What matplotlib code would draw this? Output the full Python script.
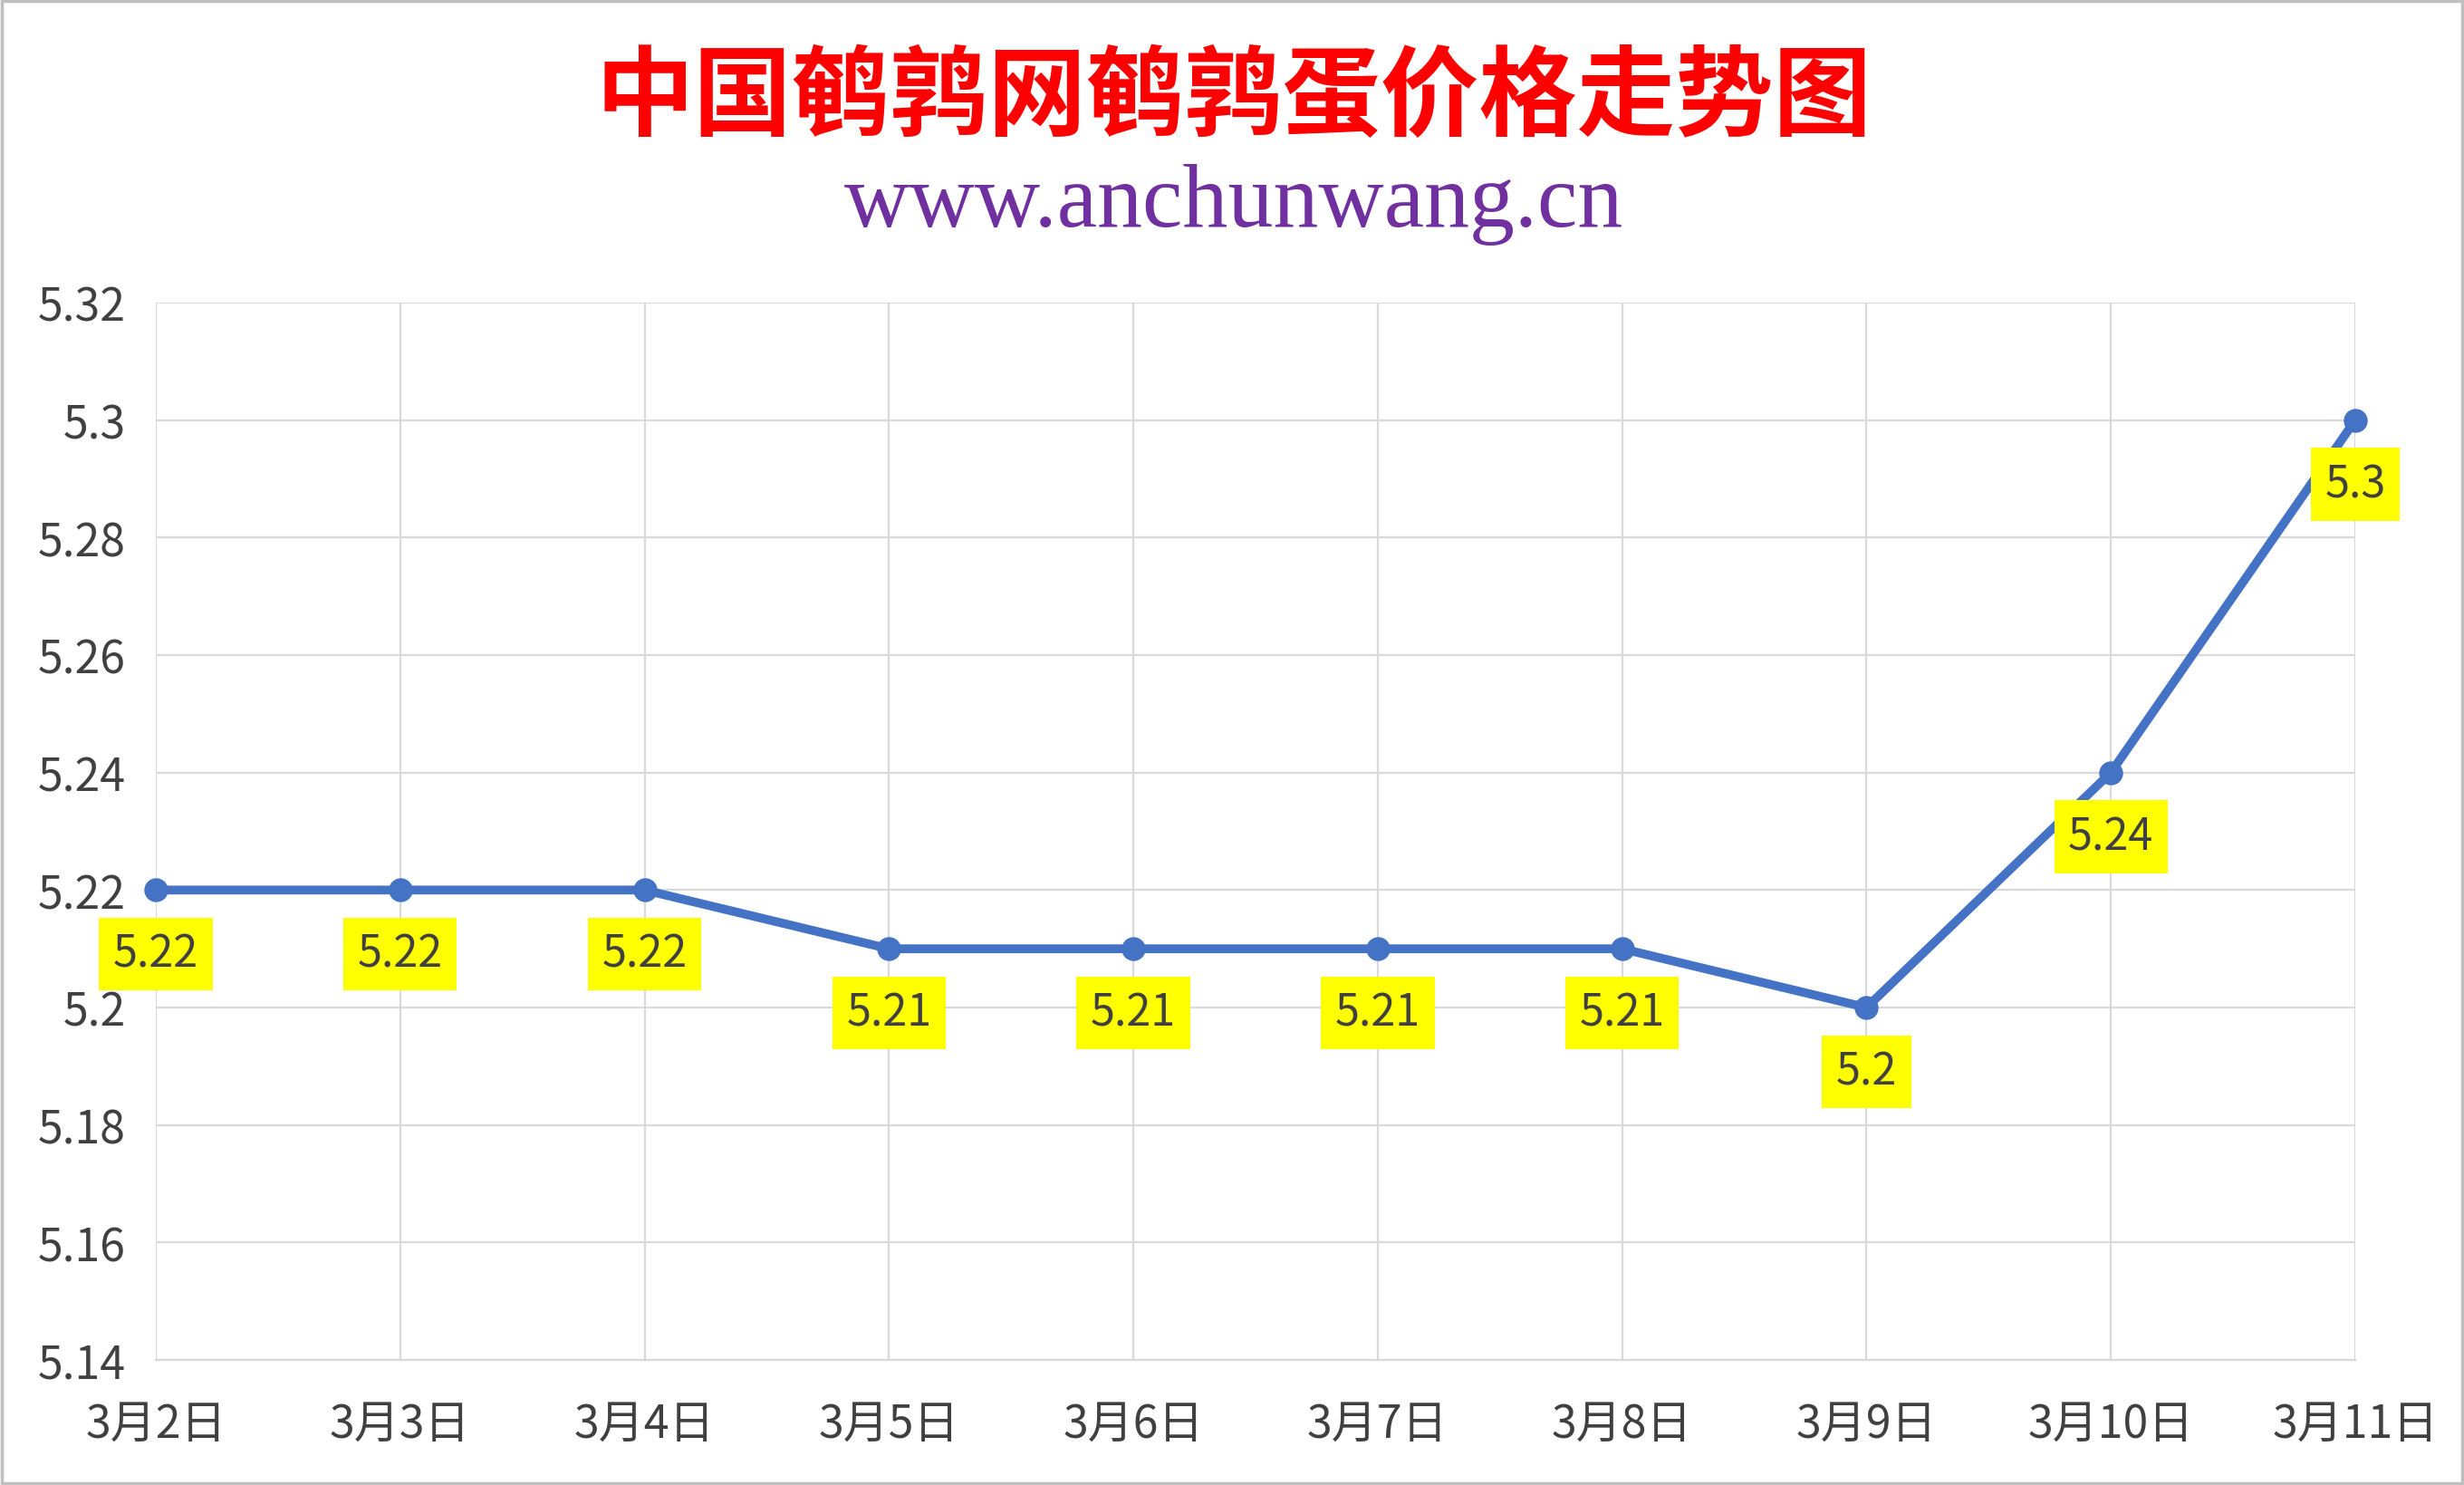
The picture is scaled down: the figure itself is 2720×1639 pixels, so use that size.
import matplotlib
matplotlib.use("Agg")
import matplotlib.pyplot as plt
from matplotlib.patches import Rectangle

plt.rcParams['font.family'] = ['Noto Sans CJK SC', 'DejaVu Sans']

dates = ["3月2日", "3月3日", "3月4日", "3月5日", "3月6日", "3月7日", "3月8日", "3月9日", "3月10日", "3月11日"]
prices = [5.22, 5.22, 5.22, 5.21, 5.21, 5.21, 5.21, 5.20, 5.24, 5.30]
label_texts = ["5.22", "5.22", "5.22", "5.21", "5.21", "5.21", "5.21", "5.2", "5.24", "5.3"]
y_ticks = [5.14, 5.16, 5.18, 5.20, 5.22, 5.24, 5.26, 5.28, 5.30, 5.32]
y_tick_labels = ["5.14", "5.16", "5.18", "5.2", "5.22", "5.24", "5.26", "5.28", "5.3", "5.32"]
title = "中国鹌鹑网鹌鹑蛋价格走势图"
subtitle = "www.anchunwang.cn"

W, H = 2720, 1640
fig = plt.figure(figsize=(W / 100, H / 100), dpi=100)
fig.patch.set_facecolor("white")

# outer border
fig.add_artist(Rectangle((0.0006, 0.001), 0.9985, 0.9978, transform=fig.transFigure,
                         fill=False, edgecolor="#bfbfbf", linewidth=2.5))

ax = fig.add_axes([172 / W, 1 - 1502 / H, (2600 - 172) / W, (1502 - 335) / H])
x = list(range(len(dates)))
ax.plot(x, prices, color="#4472C4", linewidth=7, marker="o", markersize=18,
        solid_capstyle="round", zorder=3, clip_on=False)

ax.set_xlim(0, len(dates) - 1)
ax.set_ylim(y_ticks[0], y_ticks[-1])
ax.set_yticks(y_ticks)
ax.set_yticklabels(y_tick_labels)
ax.set_xticks(x)
ax.set_xticklabels(dates)
ax.tick_params(axis="both", length=0, labelsize=36, labelcolor="#404040")
ax.tick_params(axis="y", pad=24)
ax.tick_params(axis="x", pad=32)
ax.grid(True, color="#d9d9d9", linewidth=1.6, zorder=0)
ax.set_axisbelow(True)
for side in ["top", "right", "left"]:
    ax.spines[side].set_visible(False)
ax.spines["bottom"].set_color("#d9d9d9")
ax.spines["bottom"].set_linewidth(1.6)

for xi, yi, t in zip(x, prices, label_texts):
    ax.annotate(t, (xi, yi), xytext=(0, -51), textcoords="offset points",
                ha="center", va="center", fontsize=35, color="#404040", zorder=5,
                bbox=dict(boxstyle="square,pad=0.32", facecolor="#FFFF00", edgecolor="none"))

fig.text(1362 / W, 1 - 110 / H, title, ha="center", va="center", fontsize=78,
         color="#FF0000", fontweight="bold")
fig.text(785 * 1.735 / W, 1 - 226 / H, subtitle, ha="center", va="center", fontsize=72,
         color="#7030A0", family=["Liberation Serif"])

fig.savefig("out.png", dpi=100, facecolor="white")
